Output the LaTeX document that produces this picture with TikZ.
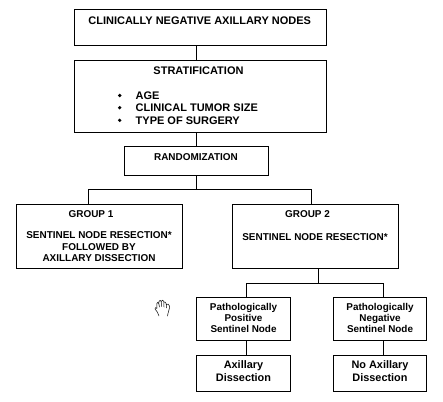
\documentclass[tikz,border=0pt]{standalone}
\usepackage{fontspec}
\setmainfont{Liberation Sans}
\begin{document}
\begin{tikzpicture}[x=1pt,y=-1pt,
  box/.style={draw=black,line width=0.85pt,fill=white,inner sep=0pt,anchor=north west},
  link/.style={draw=black,line width=0.85pt},
  big/.style={font=\bfseries\fontsize{11}{12}\selectfont,align=center,inner sep=0pt},
  small/.style={font=\bfseries\fontsize{9.95}{11.7}\selectfont,align=center,inner sep=0pt},
  path/.style={font=\bfseries\fontsize{9.9}{10.95}\selectfont,align=center,inner sep=0pt},
  dis/.style={font=\bfseries\fontsize{10.9}{13}\selectfont,align=center,inner sep=0pt},
  bullet/.style={fill=black,circle,inner sep=0pt,minimum size=3.6pt}]
\useasboundingbox (0,0) rectangle (443,401);
% boxes
\node[box,minimum width=252pt,minimum height=36pt] (top) at (74,9) {};
\node[box,minimum width=252pt,minimum height=72pt] (strat) at (74,60) {};
\node[box,minimum width=144pt,minimum height=29pt] (rand) at (124,146) {};
\node[box,minimum width=166pt,minimum height=64pt] (g1) at (16,204) {};
\node[box,minimum width=166pt,minimum height=64pt] (g2) at (232,204) {};
\node[box,minimum width=94pt,minimum height=43pt] (pos) at (196,297) {};
\node[box,minimum width=93pt,minimum height=43pt] (neg) at (333,297) {};
\node[box,minimum width=94pt,minimum height=36pt] (ad) at (196,355) {};
\node[box,minimum width=93pt,minimum height=36pt] (nad) at (333,355) {};
% connector helpers
\coordinate (spine) at (196.5,0);
\coordinate (busA) at (0,189);
\coordinate (g1x) at (88.5,0);
\coordinate (g2x) at (311.5,0);
\coordinate (busB) at (0,283);
\coordinate (stem2) at (318.5,0);
\coordinate (posx) at (246.5,0);
\coordinate (negx) at (383.5,0);
% connectors
\draw[link] (top.south -| spine) -- (strat.north -| spine);
\draw[link] (strat.south -| spine) -- (rand.north -| spine);
\draw[link] (rand.south -| spine) -- (busA -| spine);
\draw[link] (g1.north -| g1x) |- (busA -| g2x) -- (g2.north -| g2x);
\draw[link] (g2.south -| stem2) -- (busB -| stem2);
\draw[link] (pos.north -| posx) |- (busB -| negx) -- (neg.north -| negx);
\draw[link] (pos.south -| posx) -- (ad.north -| posx);
\draw[link] (neg.south -| negx) -- (nad.north -| negx);
% texts
\node[big] (t1) at (199.7,20.8) {CLINICALLY NEGATIVE AXILLARY NODES};
\node[big] (t2) at (198.5,70.8) {STRATIFICATION};
\node[big,anchor=west] (l1) at (135.5,95.8) {AGE};
\node[big,anchor=west] (l2) at (135.5,107.8) {CLINICAL TUMOR SIZE};
\node[big,anchor=west] (l3) at (135.5,120.8) {TYPE OF SURGERY};
\node[bullet] (b1) at (119.7,95.5) {};
\node[bullet] (b2) at (119.7,107.7) {};
\node[bullet] (b3) at (119.7,120.3) {};
\node[small] (t3) at (196,157.3) {RANDOMIZATION};
\node[small] (t4) at (91,214.3) {GROUP 1};
\node[small,anchor=north] (t5) at (99,231.2) {SENTINEL NODE RESECTION*\\FOLLOWED BY\\AXILLARY DISSECTION};
\node[small] (t6) at (307.5,214.3) {GROUP 2};
\node[small] (t7) at (315,237.2) {SENTINEL NODE RESECTION*};
\node[path,anchor=north] (t8) at (243.5,303.6) {Pathologically\\Positive\\Sentinel Node};
\node[path,anchor=north] (t9) at (380,303.6) {Pathologically\\Negative\\Sentinel Node};
\node[dis,anchor=north] (t10) at (243.5,360.6) {Axillary\\Dissection};
\node[dis,anchor=north] (t11) at (380,360.6) {No Axillary\\Dissection};
% hand cursor
\draw[black,line width=0.5pt,line join=round,line cap=round]
  (159,316) .. controls (158,313) and (157,311) .. (155,309)
  .. controls (154.5,307.5) and (156,307) .. (157,308.5)
  (157,308) -- (156.8,303.5) .. controls (157,302) and (158.5,302) .. (158.8,303.5)
  -- (159.5,307)
  (158.8,303.5) -- (159,301.5) .. controls (159.5,300) and (161,300) .. (161.2,301.5)
  -- (161.5,306.5)
  (161.2,301.5) .. controls (162,299.5) and (163.5,300) .. (163.8,301.5)
  -- (164,307)
  (163.8,302) .. controls (164.5,302) and (166,302) .. (166.2,303.5)
  -- (166.5,308)
  (166.2,304.5) .. controls (167,303.5) and (169.5,304) .. (169.5,306)
  .. controls (169.5,310) and (168,312) .. (167.5,316);
\end{tikzpicture}
\end{document}
